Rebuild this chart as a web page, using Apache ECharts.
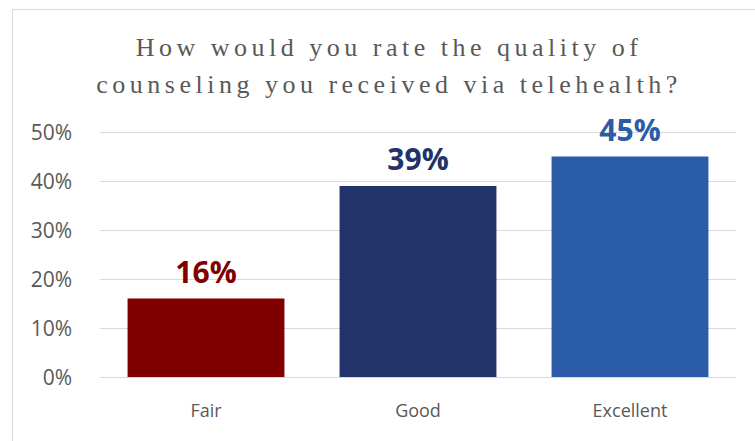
<!DOCTYPE html>
<html><head><meta charset="utf-8">
<script src="https://cdn.jsdelivr.net/npm/echarts@6/dist/echarts.min.js"></script>
<style>
html,body{margin:0;padding:0;background:#fff;}
#c{width:755px;height:441px;}
svg text[style*="Liberation Serif"]{letter-spacing:4.5px;}
</style></head>
<body><div id="c"></div>
<script>
const categories = ['Fair', 'Good', 'Excellent'];
const values = [16, 39, 45];
const barColors = ['#800000', '#22336A', '#2B5CA8'];
const yTicks = [0, 10, 20, 30, 40, 50];
const titleText = 'How would you rate the quality of\ncounseling you received via telehealth?';

const chart = echarts.init(document.getElementById('c'), null, {renderer: 'svg'});
chart.setOption({
  animation: false,
  graphic: [{
    type: 'rect', left: 10, top: 7, shape: {width: 760, height: 450},
    style: {fill: 'none', stroke: '#d9d9d9', lineWidth: 1}, silent: true, z: -1
  }],
  title: {
    text: titleText, left: 384, textAlign: 'center', top: 24,
    textStyle: {fontFamily: 'Liberation Serif', fontWeight: 'normal', fontSize: 26, color: '#595959', lineHeight: 37}
  },
  grid: {left: 100, right: 19, top: 132, bottom: 64, containLabel: false},
  xAxis: {
    type: 'category', data: categories,
    axisLine: {lineStyle: {color: '#d9d9d9'}}, axisTick: {show: false},
    axisLabel: {color: '#595959', fontSize: 18, fontFamily: 'Open Sans', margin: 24}
  },
  yAxis: {
    type: 'value', min: 0, max: 50, interval: 10,
    axisLine: {show: false}, axisTick: {show: false},
    splitLine: {lineStyle: {color: '#d9d9d9'}},
    axisLabel: {color: '#595959', fontSize: 21, fontFamily: 'Open Sans', margin: 28,
      formatter: v => yTicks.includes(v) ? v + '%' : ''}
  },
  series: [{
    type: 'bar', barWidth: '74%',
    data: values.map((v, i) => ({value: v, itemStyle: {color: barColors[i]},
      label: {color: barColors[i]}})),
    label: {show: true, position: 'top', distance: 12, formatter: '{c}%',
      fontFamily: 'Open Sans', fontWeight: 'bold', fontSize: 30}
  }]
});
</script></body></html>
